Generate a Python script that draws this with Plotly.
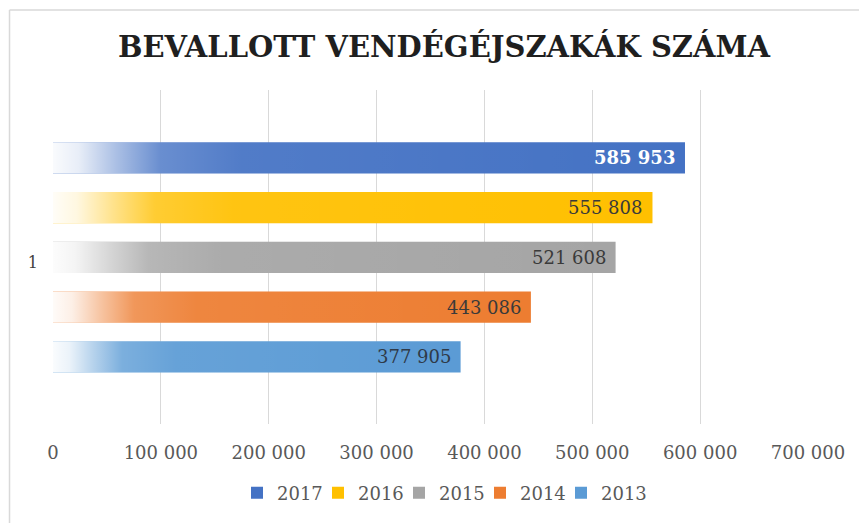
import plotly.graph_objects as go

years = ["2017", "2016", "2015", "2014", "2013"]
values = [585953, 555808, 521608, 443086, 377905]
colors = ["#4472C4", "#FFC000", "#A5A5A5", "#ED7D31", "#5B9BD5"]
label_colors = ["#FFFFFF", "#3A3A3A", "#3A3A3A", "#3A3A3A", "#2F3A48"]
x_tick_vals = [0, 100000, 200000, 300000, 400000, 500000, 600000, 700000]
x_tick_text = ["0", "100 000", "200 000", "300 000", "400 000", "500 000", "600 000", "700 000"]
category_label = "1"
title_text = "BEVALLOTT VENDÉGÉJSZAKÁK SZÁMA"

FONT = "DejaVu Serif"
BAR_W = 0.63

def fmt(v):
    return f"{v:,}".replace(",", " ")

fig = go.Figure()
n = len(years)
for k, (yr, v, c) in enumerate(zip(years, values, colors)):
    pos = n - 1 - k
    fig.add_trace(go.Bar(
        x=[v], y=[pos], orientation="h", name=yr, width=BAR_W,
        marker=dict(color=c, line=dict(width=0)),
        hoverinfo="skip",
    ))
# invisible spacer entry so the last legend label is not clipped
fig.add_trace(go.Bar(x=[None], y=[None], orientation="h", name=" ",
                     marker=dict(color="rgba(0,0,0,0)",
                                 line=dict(width=0, color="rgba(0,0,0,0)")),
                     hoverinfo="skip"))

# white-to-transparent gradient overlays (fade at the left of each bar)
for k, (yr, v, c) in enumerate(zip(years, values, colors)):
    pos = n - 1 - k
    lo, hi = pos - BAR_W / 2, pos + BAR_W / 2
    fig.add_trace(go.Scatter(
        x=[0, v, v, 0, 0], y=[lo, lo, hi, hi, lo],
        mode="lines", fill="toself", line=dict(width=0),
        fillgradient=dict(
            type="horizontal", start=0, stop=v,
            colorscale=[[0, "rgba(255,255,255,0.97)"], [0.04, "rgba(255,255,255,0.88)"],
                        [0.1, "rgba(255,255,255,0.55)"], [0.17, "rgba(255,255,255,0.2)"],
                        [0.3, "rgba(255,255,255,0.07)"], [1, "rgba(255,255,255,0)"]],
        ),
        showlegend=False, hoverinfo="skip",
    ))

for k, (v, lc) in enumerate(zip(values, label_colors)):
    pos = n - 1 - k
    fig.add_annotation(
        x=v, y=pos, text=fmt(v), showarrow=False, xanchor="right", yanchor="middle",
        xshift=-8,
        font=dict(family=FONT, size=18, color=lc, weight="bold" if k == 0 else "normal"),
    )

# chart frame
fig.add_shape(type="line", xref="paper", yref="paper", x0=-0.0576, x1=-0.0576, y0=1.2395, y1=-1,
              line=dict(color="#D9D9D9", width=1.5))
fig.add_shape(type="line", xref="paper", yref="paper", x0=-0.0576, x1=2, y0=1.2395, y1=1.2395,
              line=dict(color="#D9D9D9", width=1.5))

fig.update_layout(
    width=859, height=523,
    margin=dict(l=53, r=51, t=90, b=99, autoexpand=False),
    paper_bgcolor="white", plot_bgcolor="white",
    barmode="overlay",
    title=dict(text=title_text, x=444 / 859, xref="container", xanchor="center",
               y=1 - 47 / 523, yref="container", yanchor="middle",
               font=dict(family=FONT, size=29, color="#1F1F1F", weight="bold")),
    xaxis=dict(range=[0, 700000], tickvals=x_tick_vals, ticktext=x_tick_text,
               showgrid=True, gridcolor="#D9D9D9", gridwidth=1, zeroline=False,
               showline=False, ticks="", ticklabelstandoff=16, automargin=False,
               tickfont=dict(family=FONT, size=18, color="#595959")),
    yaxis=dict(range=[-1.35, 5.364], tickvals=[1.9], ticktext=[category_label],
               showgrid=False, zeroline=False, showline=False, ticks="",
               ticklabelstandoff=14, automargin=False,
               tickfont=dict(family=FONT, size=16, color="#404040")),
    legend=dict(orientation="h", x=(237 - 53) / 755, xanchor="left", xref="paper",
                y=1 - 493 / 523, yref="container", yanchor="middle",
                font=dict(family=FONT, size=18, color="#595959"),
                itemwidth=30, entrywidth=36, entrywidthmode="pixels",
                bgcolor="rgba(0,0,0,0)"),
    showlegend=True,
)
fig.write_html("out.html", post_script="document.body.style.margin='0';",
               config={"displayModeBar": False})
